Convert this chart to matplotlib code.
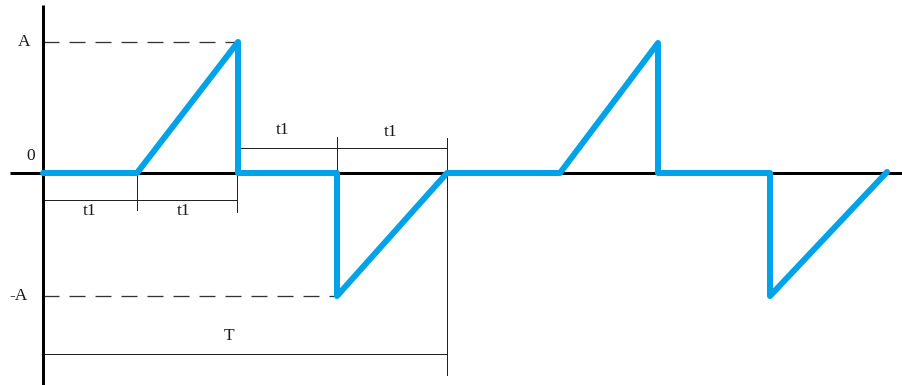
import matplotlib
matplotlib.use("Agg")
import matplotlib.pyplot as plt

# waveform corners (time, value), origin at the axes crossing
wave_t = [0, 94, 195, 195, 294, 294, 404, 517, 615, 615, 727, 727, 844]
wave_v = [0, 0, 131, 0, 0, -123, 0, 0, 130, 0, 0, -123, 1]

amp_hi = 131
amp_lo = -123
t1_marks = [0, 94, 194, 294, 404]
level_labels = ["A", "0", "-A"]

px = 0.72  # points per pixel at dpi 100

fig = plt.figure(figsize=(9.03, 3.85), dpi=100)
ax = fig.add_axes([0, 0, 1, 1])
ax.set_xlim(-43, 860)
ax.set_ylim(-212, 173)
ax.axis("off")

# coordinate axes
ax.plot([0, 0], [168, -212], color="black", lw=3 * px, solid_capstyle="butt", zorder=2)
ax.plot([-33, 860], [0, 0], color="black", lw=3 * px, solid_capstyle="butt", zorder=2)

# dashed level lines
dlw = 1.3 * px
ax.plot([0, wave_t[2]], [amp_hi, amp_hi], color="#333333", lw=dlw,
        linestyle=(0, (16 * px / dlw, 10 * px / dlw)), zorder=1)
ax.plot([0, wave_t[5]], [amp_lo, amp_lo], color="#333333", lw=dlw,
        linestyle=(0, (16 * px / dlw, 10 * px / dlw)), zorder=1)

thin = dict(color="#222222", lw=1 * px, zorder=1)
# lower t1 dimension
ax.plot([t1_marks[0], t1_marks[2]], [-27, -27], **thin)
ax.plot([t1_marks[1], t1_marks[1]], [0, -37], **thin)
ax.plot([t1_marks[2], t1_marks[2]], [0, -39], **thin)
# upper t1 dimension
ax.plot([t1_marks[2], t1_marks[4]], [25, 25], **thin)
ax.plot([t1_marks[3], t1_marks[3]], [36, 0], **thin)
ax.plot([t1_marks[4], t1_marks[4]], [35, -202], **thin)
# period T dimension
ax.plot([t1_marks[0], t1_marks[4]], [-181, -181], **thin)

# waveform
ax.plot(wave_t, wave_v, color="#00A2E8", lw=6 * px, solid_joinstyle="round",
        solid_capstyle="round", zorder=3)

font = dict(family="Liberation Serif", fontsize=12.5, color="#1a1a1a",
            ha="center", va="center")
ax.text(-19, amp_hi, level_labels[0], **font)
ax.text(-12, 17, level_labels[1], **font)
ax.text(-24, amp_lo, level_labels[2], **font)
ax.text(47, -38, "t1", **font)
ax.text(141, -38, "t1", **font)
ax.text(240, 43, "t1", **font)
ax.text(348, 41, "t1", **font)
ax.text(186, -163, "T", **font)

fig.savefig("out.png", dpi=100)
